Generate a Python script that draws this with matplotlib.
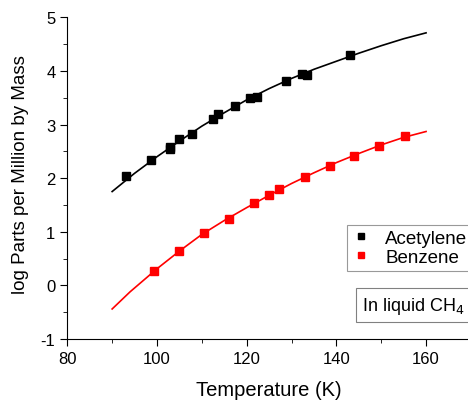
import matplotlib
matplotlib.use("Agg")
import matplotlib.pyplot as plt
from matplotlib.ticker import MultipleLocator

plt.rcParams['font.family'] = ['Liberation Sans', 'DejaVu Sans']
plt.rcParams['axes.unicode_minus'] = False

# measured points
acet_T = [93.2, 98.6, 102.8, 103.0, 104.9, 107.9, 112.4, 113.7, 117.5,
          120.7, 122.3, 128.8, 132.3, 133.5, 143.0]
acet_v = [2.04, 2.33, 2.55, 2.59, 2.73, 2.83, 3.11, 3.20, 3.35,
          3.49, 3.51, 3.81, 3.95, 3.92, 4.30]

benz_T = [99.3, 104.9, 110.4, 116.0, 121.7, 125.0, 127.2, 132.9,
          138.5, 144.0, 149.6, 155.2]
benz_v = [0.27, 0.64, 0.98, 1.24, 1.53, 1.68, 1.79, 2.02,
          2.23, 2.42, 2.60, 2.78]

# fitted curves
acet_fit_T = [90, 95, 100, 105, 110, 115, 120, 125, 130, 135, 140, 145, 150, 155, 160]
acet_fit_v = [1.75, 2.09, 2.40, 2.69, 2.97, 3.22, 3.46, 3.67, 3.86, 4.03, 4.18, 4.33, 4.47, 4.60, 4.71]

benz_fit_T = [90, 94, 100, 105, 110, 115, 120, 125, 130, 135, 140, 145, 150, 155, 160]
benz_fit_v = [-0.44, -0.12, 0.31, 0.64, 0.95, 1.21, 1.45, 1.68, 1.90, 2.10, 2.29, 2.46, 2.62, 2.76, 2.87]

fig = plt.figure(figsize=(4.68, 4.02), dpi=100)
ax = fig.add_axes([67.3 / 468, 1 - 340 / 402, 403.6 / 468, 321.7 / 402])

ax.plot(acet_fit_T, acet_fit_v, color='black', lw=1.2)
ax.plot(benz_fit_T, benz_fit_v, color='red', lw=1.2)
ax.plot(acet_T, acet_v, 's', color='black', ms=5.5, label='Acetylene')
ax.plot(benz_T, benz_v, 's', color='red', ms=5.5, label='Benzene')

ax.set_xlim(80, 170)
ax.set_ylim(-1, 5)
ax.xaxis.set_major_locator(MultipleLocator(20))
ax.xaxis.set_minor_locator(MultipleLocator(10))
ax.yaxis.set_major_locator(MultipleLocator(1))
ax.yaxis.set_minor_locator(MultipleLocator(0.5))
ax.tick_params(which='both', direction='out', labelsize=12)
ax.tick_params(which='major', length=5)
ax.tick_params(which='minor', length=3)

for s in ['top', 'right']:
    ax.spines[s].set_visible(False)

ax.set_xlabel('Temperature (K)', fontsize=14.5, labelpad=10)
ax.set_ylabel('log Parts per Million by Mass', fontsize=13.5)
ax.yaxis.set_label_coords(-0.096, 0.514)

leg = ax.legend(loc='upper left', bbox_to_anchor=(0.693, 0.354), fontsize=13.5,
                frameon=True, fancybox=False, edgecolor='gray', markerscale=0.8,
                handlelength=1.0, handletextpad=0.8, borderpad=0.25,
                labelspacing=0.1, borderaxespad=0)
leg.get_frame().set_linewidth(0.8)

ax.text(0.731, 0.073, 'In liquid CH$_4$', transform=ax.transAxes, fontsize=13,
        ha='left', va='bottom',
        bbox=dict(boxstyle='square,pad=0.35', fc='white', ec='gray', lw=0.8))

fig.savefig('out.png', dpi=100)
